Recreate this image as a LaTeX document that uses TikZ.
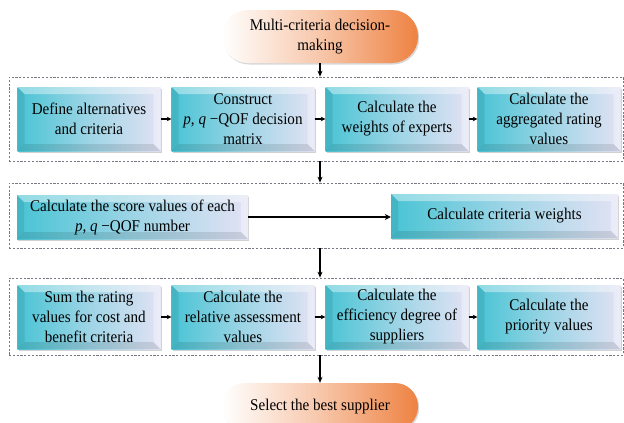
\documentclass[tikz,border=0pt]{standalone}
\usepackage{fontspec}
\setmainfont[FakeStretch=0.92]{Liberation Serif}
\usetikzlibrary{arrows.meta,shadows,calc}
\definecolor{tealc}{RGB}{72,196,212}
\definecolor{lavc}{RGB}{226,226,244}
\definecolor{orc}{RGB}{238,130,66}
\definecolor{dashc}{RGB}{120,120,130}
\tikzset{
  txt/.style={font=\fontsize{16.4}{20}\selectfont, align=center, text=black},
  bevel/.style={path picture={
    \path (path picture bounding box.south west) coordinate (bSW)
          (path picture bounding box.north east) coordinate (bNE)
          (path picture bounding box.north west) coordinate (bNW)
          (path picture bounding box.south east) coordinate (bSE);
    \fill[white,opacity=.40] (bNW) -- (bNE) -- ([shift={(-7pt,-7pt)}]bNE) -- ([shift={(7pt,-7pt)}]bNW) -- cycle;
    \fill[black,opacity=.10] (bSW) -- (bSE) -- ([shift={(-7pt,7pt)}]bSE) -- ([shift={(7pt,7pt)}]bSW) -- cycle;
    \fill[tealc!70!black,opacity=.25] (bNW) -- (bSW) -- ([shift={(7pt,7pt)}]bSW) -- ([shift={(7pt,-7pt)}]bNW) -- cycle;
    \fill[white,opacity=.35] (bNE) -- (bSE) -- ([shift={(-7pt,7pt)}]bSE) -- ([shift={(-7pt,-7pt)}]bNE) -- cycle;
  }},
  cbox/.style={txt, rectangle, inner sep=2pt, minimum width=143pt, minimum height=64pt,
    left color=tealc, right color=lavc, middle color=tealc!45!lavc, bevel,
    drop shadow={shadow xshift=1.2pt, shadow yshift=-1.5pt, opacity=.35}},
  pill/.style={txt, rectangle, rounded corners=26pt, minimum width=196pt, minimum height=53pt,
    left color=white, right color=orc, middle color=orc!45!white,
    drop shadow={shadow xshift=1.2pt, shadow yshift=-1.5pt, opacity=.3}},
  dbox/.style={draw=dashc, dashed, dash pattern=on 2.2pt off 1.6pt, line width=0.7pt, minimum width=614pt, inner sep=0pt},
  varr/.style={draw=black, line width=1.3pt, -{Stealth[length=6pt,width=5pt]}},
  harr/.style={draw=black, line width=1.6pt, -{Stealth[length=4.5pt,width=4.5pt]}},
  larr/.style={draw=black, line width=2.2pt, -{Stealth[length=6pt,width=6pt]}}
}
\begin{document}
\begin{tikzpicture}[x=1pt,y=-1pt]
\path[use as bounding box, clip] (0,0) rectangle (624,423);
\fill[white] (0,0) rectangle (624,423);

% top pill
\node[pill] (start) at (320,36.5) {Multi-criteria decision-\\making};

% dashed frames
\node[dbox, minimum height=84pt] (d1) at (316,119) {};
\node[dbox, minimum height=65pt] (d2) at (316,215.5) {};
\node[dbox, minimum height=77pt] (d3) at (316,316.5) {};

% row 1
\node[cbox] (a1) at (89,119) {Define alternatives\\and criteria};
\node[cbox] (a2) at (243,119) {Construct\\\textit{p}, \textit{q} −QOF decision\\matrix};
\node[cbox] (a3) at (397,119) {Calculate the\\weights of experts};
\node[cbox] (a4) at (549,119) {Calculate the\\aggregated rating\\values};

% row 2
\node[cbox, minimum width=231pt, minimum height=44pt] (b1) at (132.5,217) {Calculate the score values of each\\\textit{p}, \textit{q} −QOF number};
\node[cbox, minimum width=227pt, minimum height=44pt] (b2) at (504.5,216) {Calculate criteria weights};

% row 3
\node[cbox] (c1) at (89,317) {Sum the rating\\values for cost and\\benefit criteria};
\node[cbox] (c2) at (243,317) {Calculate the\\relative assessment\\values};
\node[cbox] (c3) at (397,317) {Calculate the\\efficiency degree of\\suppliers};
\node[cbox] (c4) at (549,317) {Calculate the\\priority values};

% bottom pill
\node[pill, minimum height=47pt, rounded corners=23pt] (end) at (320,406.5) {Select the best supplier};

% vertical connectors
\draw[varr] (start.south) -- (start.south |- d1.north);
\draw[varr] (start.south |- d1.south) -- (start.south |- d2.north);
\draw[varr] (start.south |- d2.south) -- (start.south |- d3.north);
\draw[varr] (start.south |- d3.south) -- (end.north);

% horizontal connectors
\draw[harr] (a1.east) -- (a2.west);
\draw[harr] (a2.east) -- (a3.west);
\draw[harr] (a3.east) -- (a4.west);
\draw[larr] (b1.east) -- (b1.east -| b2.west);
\draw[harr] (c1.east) -- (c2.west);
\draw[harr] (c2.east) -- (c3.west);
\draw[harr] (c3.east) -- (c4.west);
\end{tikzpicture}
\end{document}
